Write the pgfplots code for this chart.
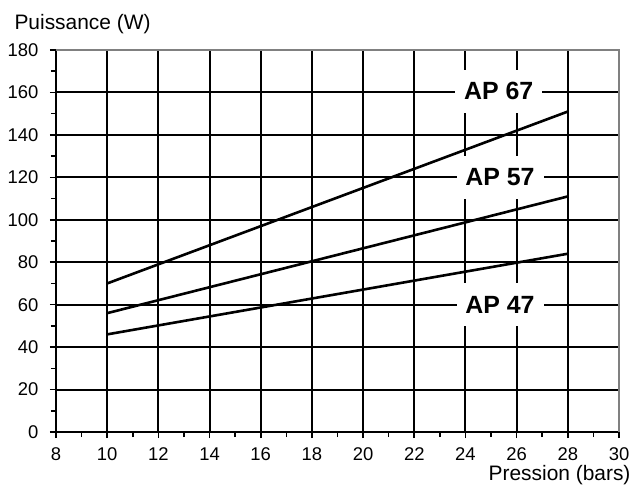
\documentclass[border=0pt]{standalone}
\usepackage{pgfplots}
\pgfplotsset{compat=1.18}
\usepackage{fontspec}
\setmainfont{Liberation Sans}

\begin{document}
\begin{tikzpicture}
\begin{axis}[
  scale only axis,
  width=563bp, height=382bp,
  xmin=8, xmax=30, ymin=0, ymax=180,
  axis lines=left,
  axis line style={-, black, line width=2bp},
  xtick={8,10,...,30}, ytick={0,20,...,180},
  minor x tick num=1, minor y tick num=1,
  tick align=outside,
  major tick length=6bp, minor tick length=5bp,
  every tick/.style={black, line width=1.6bp},
  grid=major,
  major grid style={black, line width=2bp},
  tick label style={font=\fontsize{18.5}{21}\selectfont},
  /pgf/number format/assume math mode=true,
  xticklabel style={anchor=base, yshift=-22bp},
  yticklabel style={anchor=east, xshift=-8bp},
  every axis x label/.style={at={(axis description cs:1,0)}, anchor=base east, xshift=15bp, yshift=-48bp},
  every axis y label/.style={at={(axis description cs:0,1)}, anchor=base west, xshift=-45bp, yshift=20bp},
  xlabel={Pression (bars)},
  ylabel={Puissance (W)},
  label style={font=\fontsize{21}{24}\selectfont},
  clip=false,
]
\addplot[black, line width=2.6bp] coordinates {(10,70) (28,151)};
\addplot[black, line width=2.6bp] coordinates {(10,56) (28,111)};
\addplot[black, line width=2.6bp] coordinates {(10,46) (28,84)};
\draw[black!50, line width=2.2bp] (rel axis cs:0,1) -- (rel axis cs:1,1) -- (rel axis cs:1,0);
\tikzset{aplab/.style={fill=white, inner sep=0pt, minimum width=87bp, minimum height=43bp, font=\bfseries\fontsize{25}{29}\selectfont}}
\node[aplab] at (axis cs:25.3,160.5) {AP 67};
\node[aplab] at (axis cs:25.35,120) {AP 57};
\node[aplab] at (axis cs:25.35,60) {AP 47};
\end{axis}
\pgfresetboundingbox
\path[use as bounding box] ([shift={(-56bp,-53bp)}]current axis.south west) rectangle ([shift={(16bp,50bp)}]current axis.north east);
\end{tikzpicture}
\end{document}
